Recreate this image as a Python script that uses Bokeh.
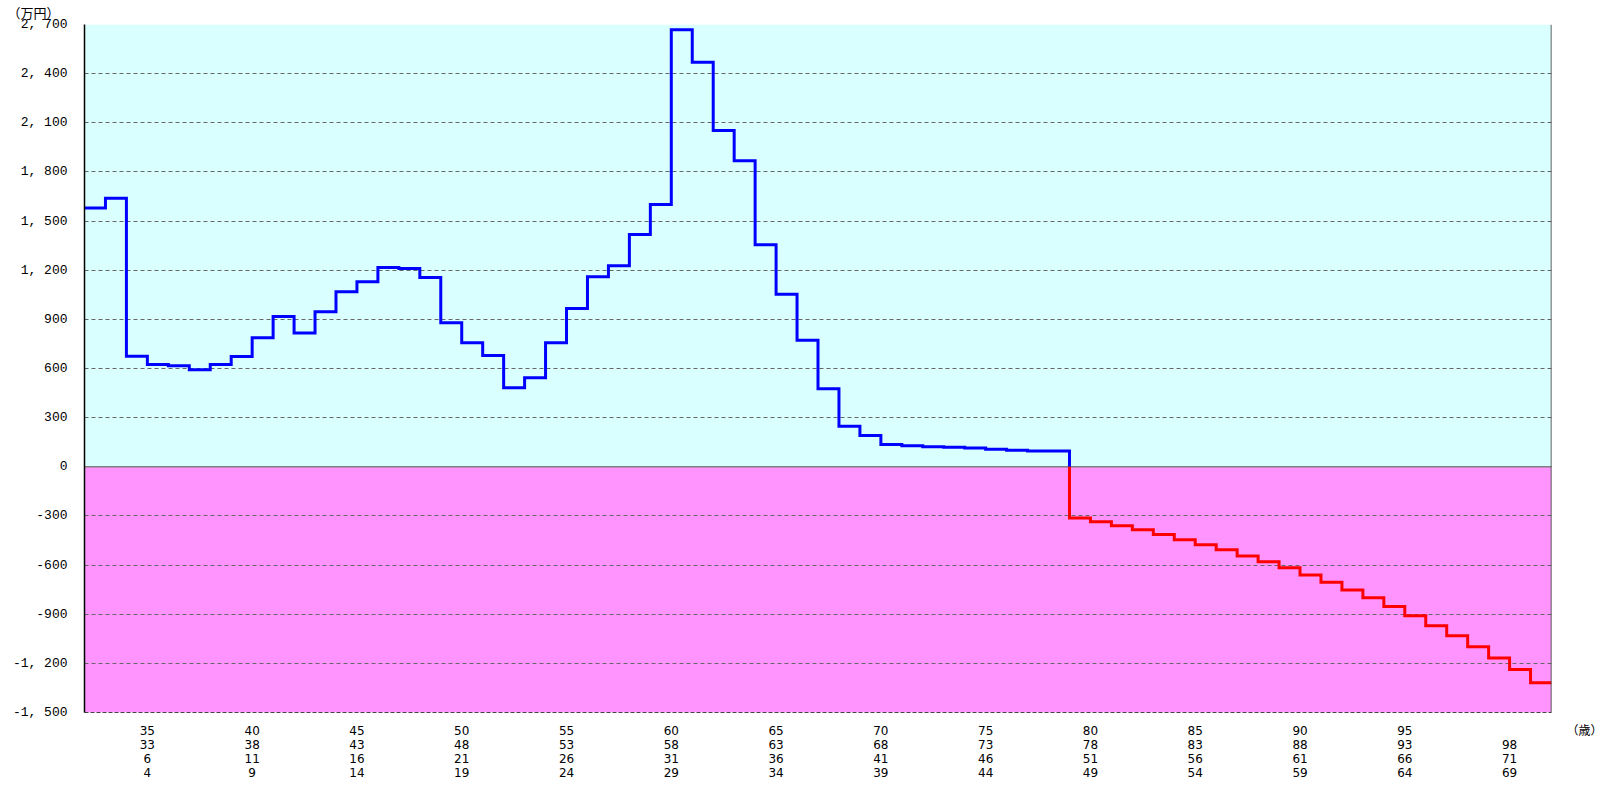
from bokeh.plotting import figure
from bokeh.models import FixedTicker, BoxAnnotation, Span
from bokeh.embed import file_html
from bokeh.resources import INLINE

# ---- data ----
# age (row 2 of the axis) at the left edge of each yearly step
ages_row2 = list(range(30, 100))
balance = [1580, 1640, 675, 624, 617, 592, 624, 673, 787, 917,
           816, 946, 1069, 1130, 1217, 1211, 1155, 879, 757, 679,
           482, 543, 757, 966, 1160, 1227, 1418, 1601, 2668, 2470,
           2053, 1868, 1355, 1054, 773, 476, 248, 191, 136, 128,
           122, 120, 114, 107, 101, 97, 96,
           -312, -336, -360, -385, -413, -446, -476, -507, -544,
           -579, -616, -661, -705, -752, -800, -853, -910, -971,
           -1032, -1099, -1167, -1238, -1319]

label_row1 = ["35", "40", "45", "50", "55", "60", "65", "70", "75", "80", "85", "90", "95", " "]
label_row2 = [33, 38, 43, 48, 53, 58, 63, 68, 73, 78, 83, 88, 93, 98]
label_row3 = ["6", "11", "16", "21", "26", "31", "36", "41", "46", "51", "56", "61", "66", "71"]
label_row4 = ["4", "9", "14", "19", "24", "29", "34", "39", "44", "49", "54", "59", "64", "69"]

y_ticks = [-1500, -1200, -900, -600, -300, 0, 300, 600, 900, 1200, 1500, 1800, 2100, 2400, 2700]

y_unit = "（万円）"
x_unit = "（歳）"

n = len(balance)

# ---- build step paths (blue above zero, red below) ----
k = next(i for i, v in enumerate(balance) if v < 0)
bx, by = [], []
for i in range(k):
    bx += [i, i + 1]
    by += [balance[i], balance[i]]
bx.append(k); by.append(0)
rx, ry = [k], [0]
for i in range(k, n):
    rx += [i, i + 1]
    ry += [balance[i], balance[i]]

FW, FH = 1467, 688
p = figure(frame_width=FW, frame_height=FH,
           x_range=(0, n), y_range=(y_ticks[0], y_ticks[-1]),
           output_backend="svg", toolbar_location=None, title=y_unit,
           min_border_left=84, min_border_top=24, min_border_right=54, min_border_bottom=72)
p.outline_line_color = None
p.background_fill_color = "white"

# unit label for the value axis, drawn as the title at the top-left
p.title.align = "left"
p.title.vertical_align = "top"
p.title.offset = -77
p.title.standoff = 2
p.title.text_font = "Noto Sans CJK JP"
p.title.text_font_size = "13px"
p.title.text_font_style = "normal"
p.title.text_color = "#000000"

p.add_layout(BoxAnnotation(bottom=0, fill_color="#D9FFFF", fill_alpha=1, line_alpha=0, level="image"))
p.add_layout(BoxAnnotation(top=0, fill_color="#FF94FF", fill_alpha=1, line_alpha=0, level="image"))

p.xgrid.visible = False
p.ygrid.ticker = FixedTicker(ticks=y_ticks)
p.ygrid.grid_line_color = "#666666"
p.ygrid.grid_line_dash = "4 3"
p.ygrid.grid_line_width = 1

p.add_layout(Span(location=0, dimension="width", line_color="#808080", line_width=1.5, level="underlay"))
p.add_layout(Span(location=n, dimension="height", line_color="#333333", line_width=1.5))

p.line(bx, by, line_color="#0000FF", line_width=3, line_join="miter")
p.line(rx, ry, line_color="#FF0000", line_width=3, line_join="miter")

# y axis
p.yaxis.ticker = FixedTicker(ticks=y_ticks)
p.yaxis.major_label_overrides = {t: f"{t:,}".replace(",", ", ") for t in y_ticks}
p.yaxis.major_label_text_font = "Liberation Mono"
p.yaxis.major_label_text_font_size = "13px"
p.yaxis.major_label_text_color = "#000000"
p.yaxis.major_tick_line_color = None
p.yaxis.minor_tick_line_color = None
p.yaxis.axis_line_color = "#000000"
p.yaxis.axis_line_width = 1.5
p.yaxis.major_label_standoff = 11

# x axis (4 rows of ages per tick; the unit label rides on a tick at the right edge)
tick_pos = [ages_row2.index(a) for a in label_row2]
overrides = {
    pos: "\n".join([r1, str(r2), r3, r4])
    for pos, r1, r2, r3, r4 in zip(tick_pos, label_row1, label_row2, label_row3, label_row4)
}
overrides[n] = "\u3000" * 6 + x_unit
p.xaxis.ticker = FixedTicker(ticks=tick_pos + [n])
p.xaxis.major_label_overrides = overrides
p.xaxis.major_label_text_font = "DejaVu Sans, Noto Sans CJK JP"
p.xaxis.major_label_text_font_size = "12px"
p.xaxis.major_label_text_line_height = 1.0
p.xaxis.major_label_text_color = "#000000"
p.xaxis.major_tick_line_color = None
p.xaxis.minor_tick_line_color = None
p.xaxis.axis_line_color = "#444444"
p.xaxis.axis_line_dash = "4 2"
p.xaxis.major_label_standoff = 5

open("out.html", "w").write(file_html(p, INLINE))
